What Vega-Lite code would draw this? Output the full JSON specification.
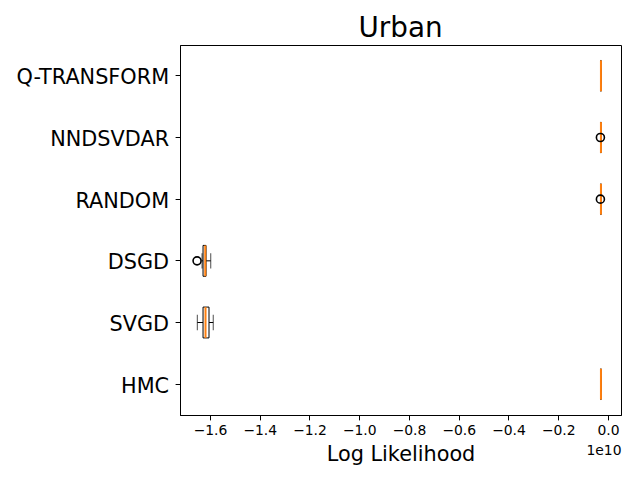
{
  "$schema": "https://vega.github.io/schema/vega-lite/v6.json",
  "width": 441,
  "height": 370,
  "autosize": {"type": "none"},
  "padding": {"left": 180, "top": 45, "right": 19, "bottom": 65},
  "background": "white",
  "title": {"text": "Urban", "fontSize": 27.8, "font": "DejaVu Sans", "fontWeight": "normal", "color": "black", "offset": 2},
  "datasets": {
    "stats": [
      {"method": "Q-TRANSFORM", "lo": -0.0295, "q1": -0.029, "median": -0.0283, "q3": -0.0277, "hi": -0.027},
      {"method": "NNDSVDAR", "lo": -0.0295, "q1": -0.029, "median": -0.0283, "q3": -0.0277, "hi": -0.027},
      {"method": "RANDOM", "lo": -0.0295, "q1": -0.029, "median": -0.0283, "q3": -0.0277, "hi": -0.027},
      {"method": "DSGD", "lo": -1.632, "q1": -1.628, "median": -1.619, "q3": -1.616, "hi": -1.597},
      {"method": "SVGD", "lo": -1.651, "q1": -1.628, "median": -1.618, "q3": -1.604, "hi": -1.587},
      {"method": "HMC", "lo": -0.0295, "q1": -0.029, "median": -0.0283, "q3": -0.0277, "hi": -0.027}
    ],
    "outliers": [
      {"method": "NNDSVDAR", "value": -0.0305},
      {"method": "RANDOM", "value": -0.0305},
      {"method": "DSGD", "value": -1.652}
    ]
  },
  "encoding": {
    "y": {
      "field": "method", "type": "nominal",
      "scale": {"domain": ["Q-TRANSFORM", "NNDSVDAR", "RANDOM", "DSGD", "SVGD", "HMC"], "paddingInner": 0, "paddingOuter": 0},
      "axis": {"title": null, "labelFontSize": 20.8, "labelFont": "DejaVu Sans", "labelColor": "black", "tickColor": "black", "tickSize": 4.9, "labelPadding": 6.5, "labelOffset": 2.5, "domainColor": "black", "grid": false}
    }
  },
  "layer": [
    {
      "data": {"name": "stats"},
      "mark": {"type": "rule", "color": "black", "strokeWidth": 1},
      "encoding": {
        "x": {
          "field": "lo", "type": "quantitative",
          "scale": {"domain": [-1.7206, 0.0523], "nice": false, "zero": false},
          "axis": {"title": "Log Likelihood", "titleFontSize": 20.8, "titleFont": "DejaVu Sans", "titleFontWeight": "normal", "titleColor": "black", "titlePadding": 7,
                   "values": [-1.6, -1.4, -1.2, -1.0, -0.8, -0.6, -0.4, -0.2, 0.0], "format": ".1f",
                   "labelFontSize": 13.9, "labelFont": "DejaVu Sans", "labelColor": "black", "tickColor": "black", "tickSize": 4.9, "labelPadding": 4, "domainColor": "black", "grid": false, "labelFlush": false}
        },
        "x2": {"field": "q1"}
      }
    },
    {
      "data": {"name": "stats"},
      "mark": {"type": "rule", "color": "black", "strokeWidth": 1},
      "encoding": {
        "x": {"field": "q3", "type": "quantitative", "axis": null},
        "x2": {"field": "hi"}
      }
    },
    {
      "data": {"name": "stats"},
      "mark": {"type": "tick", "color": "black", "thickness": 1, "size": 15.4},
      "encoding": {"x": {"field": "lo", "type": "quantitative", "axis": null}}
    },
    {
      "data": {"name": "stats"},
      "mark": {"type": "tick", "color": "black", "thickness": 1, "size": 15.4},
      "encoding": {"x": {"field": "hi", "type": "quantitative", "axis": null}}
    },
    {
      "data": {"name": "stats"},
      "mark": {"type": "bar", "fill": "transparent", "fillOpacity": 0, "stroke": "black", "strokeWidth": 1, "strokeOpacity": 1, "height": {"band": 0.5}},
      "encoding": {
        "x": {"field": "q1", "type": "quantitative", "axis": null},
        "x2": {"field": "q3"}
      }
    },
    {
      "data": {"name": "stats"},
      "mark": {"type": "tick", "color": "#ff7f0e", "opacity": 1, "thickness": 2, "size": 30.8},
      "encoding": {"x": {"field": "median", "type": "quantitative", "axis": null}}
    },
    {
      "data": {"name": "outliers"},
      "mark": {"type": "point", "shape": "circle", "filled": false, "stroke": "black", "strokeWidth": 1.6, "size": 64, "opacity": 1},
      "encoding": {
        "x": {"field": "value", "type": "quantitative",
              "axis": {"orient": "bottom", "title": "1e10", "labels": false, "ticks": false, "domain": false, "grid": false,
                       "titleFontSize": 13.9, "titleFont": "DejaVu Sans", "titleFontWeight": "normal", "titleColor": "black",
                       "titleX": 441, "titleY": 39, "titleAlign": "right", "titleBaseline": "alphabetic", "titleAngle": 0}}
      }
    }
  ],
  "resolve": {"axis": {"x": "independent"}},
  "config": {"view": {"stroke": "black", "strokeWidth": 1}, "font": "DejaVu Sans"}
}
